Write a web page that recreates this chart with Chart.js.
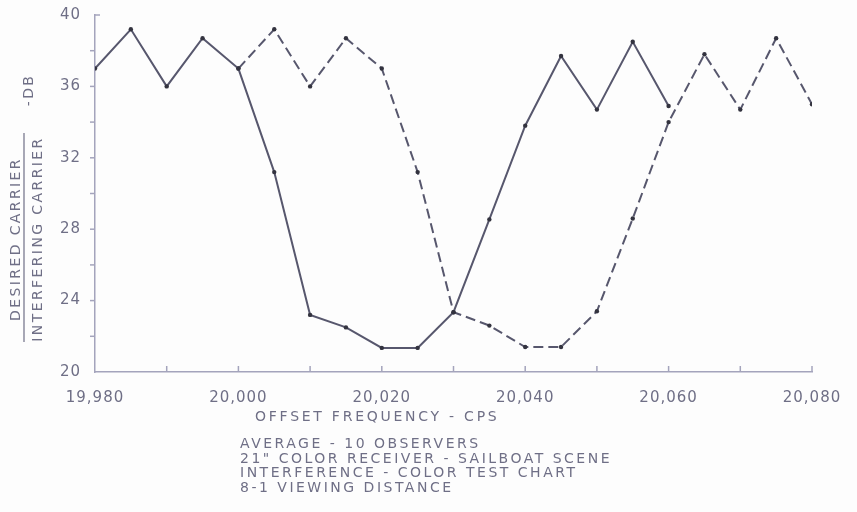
<!DOCTYPE html>
<html lang="en">
<head>
    <meta charset="UTF-8">
    <title>Desired / Interfering Carrier vs Offset Frequency</title>
    <script src="https://cdn.jsdelivr.net/npm/chart.js"></script>
    <style>
        body {
            margin: 0;
            background-color: #fdfdfd;
        }
        .chart-container {
            width: 857px;
            height: 512px;
        }
    </style>
</head>
<body>
    <div class="chart-container">
        <canvas id="carrierChart"></canvas>
    </div>
    <script>
        // solid curve
        const freqSolid = [19980, 19985, 19990, 19995, 20000, 20005, 20010, 20015, 20020, 20025, 20030, 20035, 20040, 20045, 20050, 20055, 20060];
        const dbSolid = [37.0, 39.2, 36.0, 38.7, 37.0, 31.2, 23.2, 22.5, 21.35, 21.35, 23.35, 28.55, 33.8, 37.7, 34.7, 38.5, 34.9];
        // dashed curve
        const freqDashed = [20000, 20005, 20010, 20015, 20020, 20025, 20030, 20035, 20040, 20045, 20050, 20055, 20060, 20065, 20070, 20075, 20080];
        const dbDashed = [37.0, 39.2, 36.0, 38.7, 37.0, 31.2, 23.35, 22.6, 21.4, 21.4, 23.4, 28.6, 34.0, 37.8, 34.7, 38.7, 35.0];

        const xTitle = 'OFFSET FREQUENCY - CPS';
        const yTitleTop = 'DESIRED CARRIER';
        const yTitleBottom = 'INTERFERING CARRIER';
        const yUnit = '-DB';
        const notes = [
            'AVERAGE - 10 OBSERVERS',
            '21" COLOR RECEIVER - SAILBOAT SCENE',
            'INTERFERENCE - COLOR TEST CHART',
            '8-1 VIEWING DISTANCE'
        ];

        const inkLine = '#57576d';
        const inkText = '#6f6f86';
        const axisColor = '#a4a4bc';
        const font = "'DejaVu Sans', sans-serif";

        const toPoints = (xs, ys) => xs.map((x, i) => ({ x: x, y: ys[i] }));

        // axis ticks and the extra lettering around the plot
        const lettering = {
            id: 'lettering',
            beforeDraw(chart) {
                chart.ctx.letterSpacing = '1px';
            },
            afterDraw(chart) {
                const ctx = chart.ctx;
                const xs = chart.scales.x;
                const ys = chart.scales.y;
                const area = chart.chartArea;
                ctx.save();
                ctx.strokeStyle = axisColor;
                ctx.lineWidth = 1.5;
                // x ticks, pointing up into the plot
                for (let v = 19990; v <= 20080; v += 10) {
                    const px = xs.getPixelForValue(v);
                    ctx.beginPath();
                    ctx.moveTo(px, area.bottom);
                    ctx.lineTo(px, area.bottom - 6);
                    ctx.stroke();
                }
                // y ticks, pointing left
                for (let v = 22; v <= 40; v += 2) {
                    const py = ys.getPixelForValue(v);
                    ctx.beginPath();
                    ctx.moveTo(area.left, py);
                    ctx.lineTo(area.left + (v === 40 ? 5 : -5), py);
                    ctx.stroke();
                }

                ctx.fillStyle = inkText;
                ctx.letterSpacing = '2.75px';
                ctx.font = '14px ' + font;
                ctx.textAlign = 'left';
                ctx.textBaseline = 'alphabetic';
                ctx.fillText(xTitle, 255, 421);

                ctx.font = '14px ' + font;
                ctx.letterSpacing = '2.5px';
                const noteY = [448, 463, 477, 492];
                notes.forEach((t, i) => ctx.fillText(t, 240, noteY[i]));

                // rotated y title as a fraction
                ctx.font = '14px ' + font;
                ctx.letterSpacing = '2.4px';
                ctx.textAlign = 'center';
                ctx.save();
                ctx.translate(20, 239);
                ctx.rotate(-Math.PI / 2);
                ctx.fillText(yTitleTop, 0, 0);
                ctx.restore();
                ctx.save();
                ctx.translate(42, 239);
                ctx.rotate(-Math.PI / 2);
                ctx.fillText(yTitleBottom, 0, 0);
                ctx.restore();
                ctx.save();
                ctx.translate(33, 90);
                ctx.rotate(-Math.PI / 2);
                ctx.fillText(yUnit, 0, 0);
                ctx.restore();
                ctx.strokeStyle = inkText;
                ctx.lineWidth = 1.2;
                ctx.beginPath();
                ctx.moveTo(24, 133);
                ctx.lineTo(24, 342);
                ctx.stroke();
                ctx.restore();
            }
        };

        const ctx = document.getElementById('carrierChart').getContext('2d');
        const chart = new Chart(ctx, {
            type: 'line',
            data: {
                datasets: [
                    {
                        label: 'solid',
                        data: toPoints(freqSolid, dbSolid),
                        borderColor: inkLine,
                        borderWidth: 2,
                        pointRadius: 2.2,
                        pointBackgroundColor: '#33333f',
                        pointBorderWidth: 0,
                        tension: 0
                    },
                    {
                        label: 'dashed',
                        data: toPoints(freqDashed, dbDashed),
                        borderColor: inkLine,
                        borderWidth: 2,
                        borderDash: [10, 5],
                        pointRadius: 2.2,
                        pointBackgroundColor: '#33333f',
                        pointBorderWidth: 0,
                        tension: 0
                    }
                ]
            },
            options: {
                responsive: true,
                maintainAspectRatio: false,
                animation: false,
                layout: {
                    padding: { top: 12, right: 45, left: 0, bottom: 0 }
                },
                plugins: {
                    legend: { display: false },
                    tooltip: { enabled: false }
                },
                scales: {
                    x: {
                        type: 'linear',
                        min: 19980,
                        max: 20080,
                        grid: { display: false },
                        border: { display: true, color: axisColor, width: 1.5 },
                        ticks: {
                            stepSize: 10,
                            padding: 9,
                            maxRotation: 0,
                            autoSkip: false,
                            color: inkText,
                            font: { family: font, size: 15 },
                            callback: v => v % 20 === 0 ? v.toLocaleString('en-US') : ''
                        },
                        afterFit: s => { s.height = 140; }
                    },
                    y: {
                        min: 20,
                        max: 40,
                        grid: { display: false },
                        border: { display: true, color: axisColor, width: 1.5 },
                        ticks: {
                            stepSize: 2,
                            padding: 6,
                            autoSkip: false,
                            color: inkText,
                            font: { family: font, size: 15 },
                            callback: v => v % 4 === 0 ? v : ''
                        },
                        afterFit: s => { s.width = 95; }
                    }
                }
            },
            plugins: [lettering]
        });
    </script>
</body>
</html>
